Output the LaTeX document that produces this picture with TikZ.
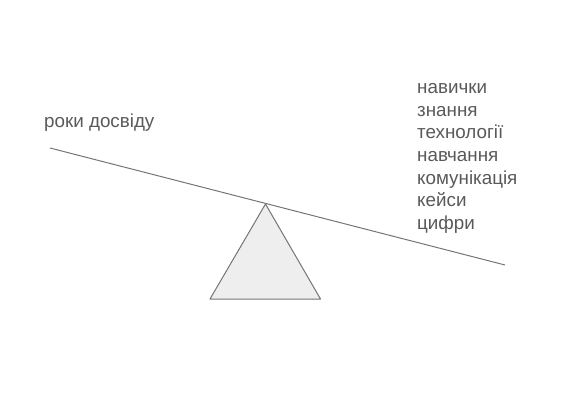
\documentclass[tikz,border=0pt]{standalone}
\usepackage{fontspec}
\setmainfont{Liberation Sans}
\definecolor{txt}{HTML}{595959}
\definecolor{ln}{HTML}{757575}
\definecolor{fillg}{HTML}{EEEEEE}
\begin{document}
\begin{tikzpicture}[x=1pt,y=-1pt,
  lbl/.style={anchor=base west,inner sep=0pt,text=txt,font=\fontsize{18.8}{22.5}\selectfont}]
\useasboundingbox (0,0) rectangle (572,406);
\coordinate (l1) at (50,148);
\coordinate (l2) at (505,265);
\draw[ln,line width=1pt] (l1) -- (l2);
\draw[ln,line width=1pt,fill=fillg,line join=round] (265.5,204) -- (320.5,299) -- (210,299) -- cycle;
\node[lbl] (left) at (44,128) {роки досвіду};
\foreach \t [count=\i from 0] in {навички,знання,технології,навчання,комунікація,кейси,цифри}
  \node[lbl] (r\i) at (417,94+22.5*\i) {\t};
\end{tikzpicture}
\end{document}
